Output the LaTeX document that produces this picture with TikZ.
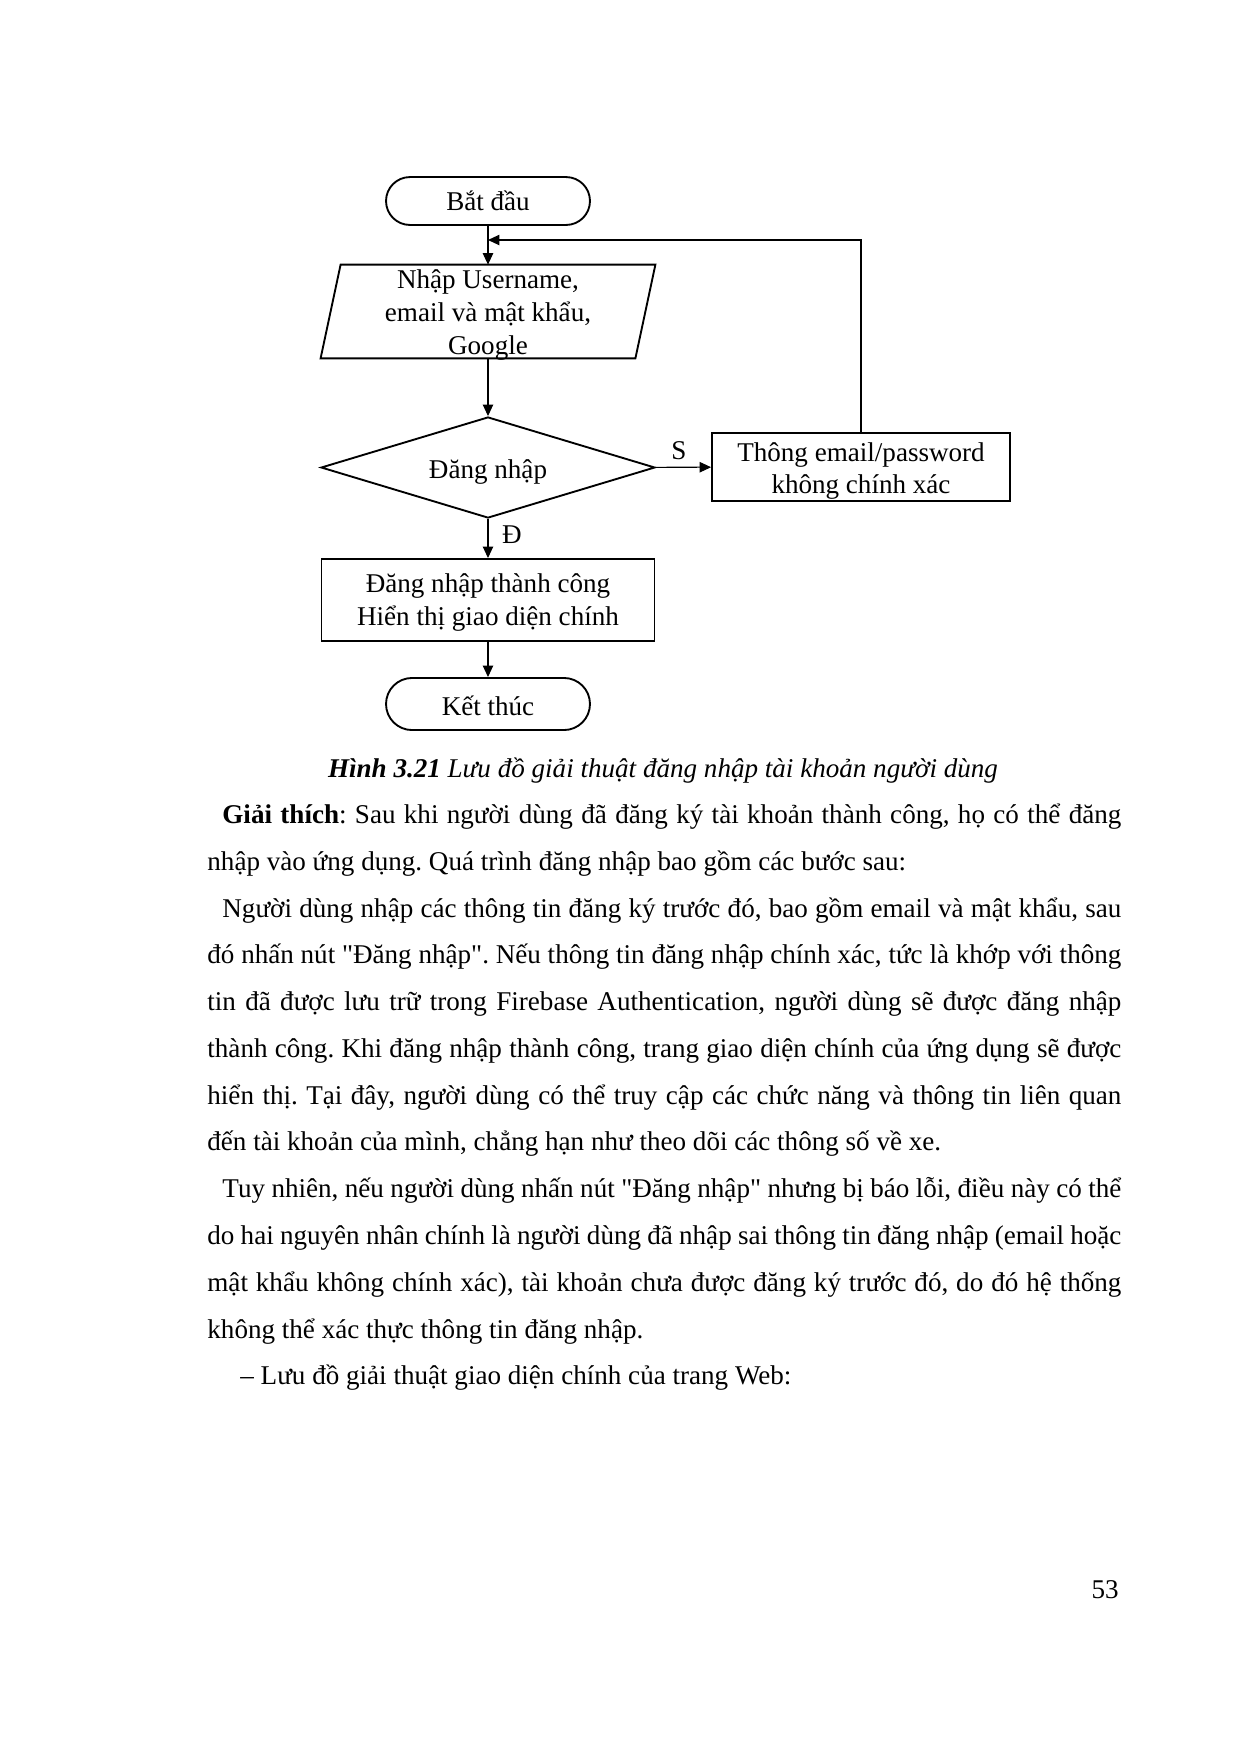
\documentclass[tikz,border=0pt]{standalone}
\usepackage{fontspec}
\setmainfont{Liberation Serif}[Ligatures=TeXOff]
\usetikzlibrary{shapes.geometric,shapes.misc,arrows.meta}
\newcommand\myfs{\fontsize{13pt}{15.8pt}\selectfont\frenchspacing}
\newcommand\jline[2]{\makebox[#1][s]{#2}}
\begin{document}
\frenchspacing
\begin{tikzpicture}[x=0.48pt,y=-0.48pt,
  box/.style={draw,line width=0.9pt,inner sep=0pt},
  term/.style={box,rounded rectangle,minimum width=97.9pt},
  proc/.style={box,rectangle},
  decbox/.style={box,diamond,aspect=3.3,minimum width=160.3pt,minimum height=48.5pt},
  inbox/.style={inner sep=0pt,minimum width=150.7pt,minimum height=44.6pt},
  shapeline/.style={line width=0.9pt},
  boxtext/.style={font=\myfs,align=center,inner sep=0pt},
  conn/.style={line width=0.5pt,-{Triangle[length=5.5pt,width=5pt]}},
  lbl/.style={font=\myfs,inner sep=0pt},
  txt/.style={font=\myfs,inner sep=0pt,anchor=base west},
]
\useasboundingbox (0,0) rectangle (1240,1754);
\fill[white] (0,0) rectangle (1240,1754);

% flowchart shapes
\node[term,minimum height=23pt] (start) at (488,201) {};
\node[inbox] (inp) at (488,311.5) {};
\draw[shapeline] ([xshift=4.8pt]inp.north west) -- ([xshift=4.8pt]inp.north east)
  -- ([xshift=-4.8pt]inp.south east) -- ([xshift=-4.8pt]inp.south west) -- cycle;
\node[decbox] (dec) at (488,467.5) {};
\node[proc,minimum width=143pt,minimum height=32.6pt] (err) at (861,467) {};
\node[proc,minimum width=159.8pt,minimum height=39.4pt] (ok) at (488,600) {};
\node[term,minimum height=25pt] (end) at (488,704) {};
\coordinate (loopin) at (488,240);

% texts in shapes
\node[boxtext] (tstart) at ([yshift=0pt]start.center) {Bắt đầu};
\node[boxtext] (tinp) at ([yshift=-1.6pt]inp.center) {Nhập Username,\\email và mật khẩu,\\Google};
\node[boxtext] (tdec) at ([yshift=-2pt]dec.center) {Đăng nhập};
\node[boxtext] (terr) at ([yshift=-1.9pt]err.center) {Thông email/password\\không chính xác};
\node[boxtext] (tok) at ([yshift=-1.3pt]ok.center) {Đăng nhập thành công\\Hiển thị giao diện chính};
\node[boxtext] (tend) at ([yshift=-1pt]end.center) {Kết thúc};

% connectors
\draw[conn] (start) -- (inp);
\draw[conn] (inp) -- (dec);
\draw[conn] (dec) -- (err);
\draw[conn] (err.north) |- (loopin);
\draw[conn] (dec) -- (ok);
\draw[conn] (ok) -- (end);
\node[lbl] (s) at (679,450.5) {S};
\node[lbl] (d) at (512,534.5) {Đ};

% caption
\node[font=\myfs,inner sep=0pt,anchor=base] (cap) at (663,777)
  {\textbf{\textit{Hình 3.21}} \textit{Lưu đồ giải thuật đăng nhập tài khoản người dùng}};

% body text
\node[txt] (l1) at (222,823.5) {\jline{431.5pt}{\textbf{Giải thích}: Sau khi người dùng đã đăng ký tài khoản thành công, họ có thể đăng}};
\node[txt] (l2) at (207,870.3) {nhập vào ứng dụng. Quá trình đăng nhập bao gồm các bước sau:};
\node[txt] (l3) at (222,917.0) {\jline{431.5pt}{Người dùng nhập các thông tin đăng ký trước đó, bao gồm email và mật khẩu, sau}};
\node[txt] (l4) at (207,963.8) {\jline{438.7pt}{đó nhấn nút "Đăng nhập". Nếu thông tin đăng nhập chính xác, tức là khớp với thông}};
\node[txt] (l5) at (207,1010.6) {\jline{438.7pt}{tin đã được lưu trữ trong Firebase Authentication, người dùng sẽ được đăng nhập}};
\node[txt] (l6) at (207,1057.4) {\jline{438.7pt}{thành công. Khi đăng nhập thành công, trang giao diện chính của ứng dụng sẽ được}};
\node[txt] (l7) at (207,1104.1) {\jline{438.7pt}{hiển thị. Tại đây, người dùng có thể truy cập các chức năng và thông tin liên quan}};
\node[txt] (l8) at (207,1150.9) {đến tài khoản của mình, chẳng hạn như theo dõi các thông số về xe.};
\node[txt] (l9) at (222,1197.7) {\jline{431.5pt}{Tuy nhiên, nếu người dùng nhấn nút "Đăng nhập" nhưng bị báo lỗi, điều này có thể}};
\node[txt] (l10) at (207,1244.4) {\jline{438.7pt}{do hai nguyên nhân chính là người dùng đã nhập sai thông tin đăng nhập (email hoặc}};
\node[txt] (l11) at (207,1291.2) {\jline{438.7pt}{mật khẩu không chính xác), tài khoản chưa được đăng ký trước đó, do đó hệ thống}};
\node[txt] (l12) at (207,1338.0) {không thể xác thực thông tin đăng nhập.};
\node[txt] (l13) at (240,1384.7) {– Lưu đồ giải thuật giao diện chính của trang Web:};

% page number
\node[font=\myfs,inner sep=0pt,anchor=base east] (pg) at (1119,1598) {53};
\end{tikzpicture}
\end{document}
